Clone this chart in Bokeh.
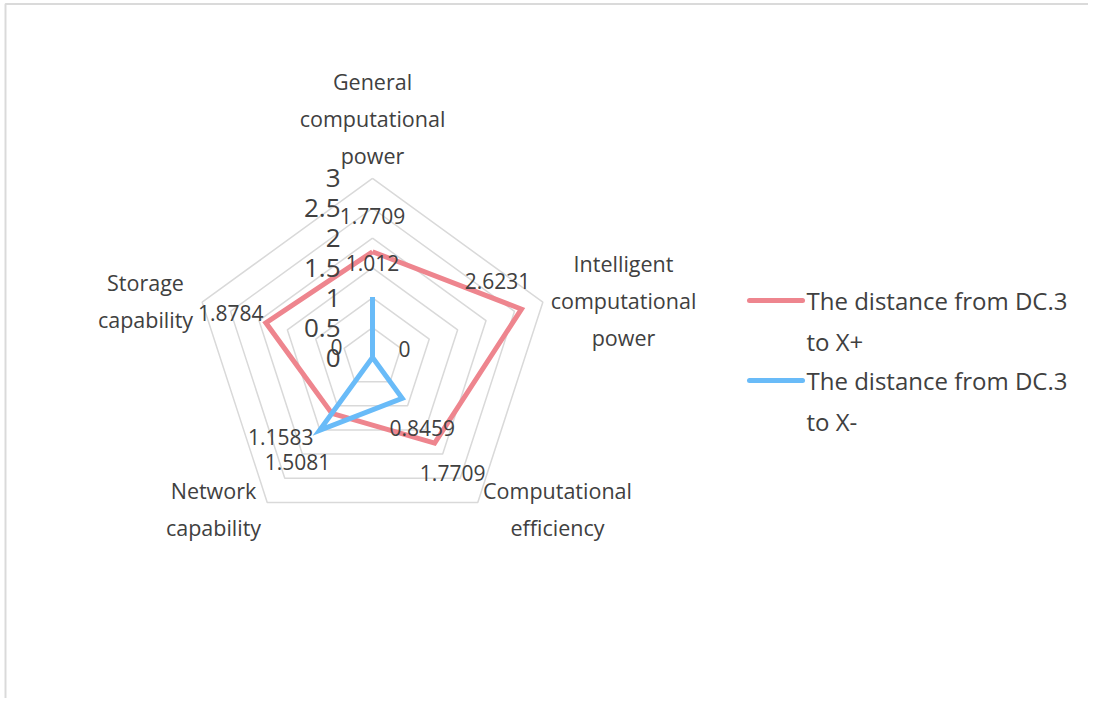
import numpy as np
from bokeh.plotting import figure
from bokeh.models import ColumnDataSource
from bokeh.core.properties import value
from bokeh.embed import file_html
from bokeh.resources import INLINE

# ---- data ----
categories = ["General\ncomputational\npower",
              "Intelligent\ncomputational\npower",
              "Computational\nefficiency",
              "Network\ncapability",
              "Storage\ncapability"]
series_names = ["The distance from DC.3\nto X+", "The distance from DC.3\nto X-"]
x_plus = [1.7709, 2.6231, 1.7709, 1.1583, 1.8784]
x_minus = [1.012, 0, 0.8459, 1.5081, 0]
ticks = [0, 0.5, 1, 1.5, 2, 2.5, 3]
tick_labels = ["0", "0.5", "1", "1.5", "2", "2.5", "3"]

# ---- layout (pixel mapping) ----
W, H = 1088, 698
S = 59.7                       # px per unit
CX, CY = 372, 357              # center in figure px
x0 = -CX / S
x1 = x0 + W / S
y1 = CY / S
y0 = y1 - H / S

def px(x, y):
    """figure pixel -> data coords"""
    return x0 + x / S, y1 - y / S

FONT = value("Open Sans")
TXT = "#404040"
RED = "#EE858E"
BLUE = "#69BBF8"
GRID = "#D9D9D9"

p = figure(width=W, height=H, x_range=(x0, x1), y_range=(y0, y1),
           output_backend="svg", toolbar_location=None, min_border=0)
p.axis.visible = False
p.grid.visible = False
p.outline_line_color = None
p.background_fill_color = "white"

# frame lines
fa = px(5, 3.5)
fb = px(5, 720)
fc = px(1100, 3.5)
p.line([fb[0], fa[0], fc[0]], [fb[1], fa[1], fc[1]], line_color="#DADADA", line_width=2)

n = len(categories)
ang = np.pi / 2 - np.arange(n) * 2 * np.pi / n
ca, sa = np.cos(ang), np.sin(ang)

# rings
for t in ticks[1:]:
    xs = list(t * ca) + [t * ca[0]]
    ys = list(t * sa) + [t * sa[0]]
    p.line(xs, ys, line_color=GRID, line_width=1.5)

# series
for vals, col in [(x_plus, RED), (x_minus, BLUE)]:
    v = np.array(vals)
    xs = list(v * ca) + [v[0] * ca[0]]
    ys = list(v * sa) + [v[0] * sa[0]]
    p.line(xs, ys, line_color=col, line_width=5, line_join="miter")

# tick labels
p.text(x=[0] * len(ticks), y=ticks, text=tick_labels, x_offset=-32,
       text_align="right", text_baseline="middle", text_font=FONT,
       text_font_size="26px", text_color=TXT)

# data labels
red_off = [(0, -36), (-24, -28), (18, 30), (-51, 24), (-35, -10)]
blue_off = [(0, -34), (32, -9), (20, 30), (-22, 32), (-36, -11)]
for vals, offs in [(x_plus, red_off), (x_minus, blue_off)]:
    v = np.array(vals)
    src = ColumnDataSource(dict(x=v * ca, y=v * sa,
                                t=[f"{a:g}" for a in vals],
                                dx=[o[0] for o in offs], dy=[o[1] for o in offs]))
    p.text(x="x", y="y", text="t", x_offset="dx", y_offset="dy", source=src,
           text_align="center", text_baseline="middle", text_font=FONT,
           text_font_size="21px", text_color=TXT)

# category labels (positions in figure px, centre of first line)
cat_pos = [(372, 81), (623, 263), (557, 490), (213, 490), (145, 282)]
for lab, (lx, ly) in zip(categories, cat_pos):
    lines = lab.split("\n")
    xs, ys = [], []
    for i, _ in enumerate(lines):
        dx, dy = px(lx, ly + 37 * i)
        xs.append(dx)
        ys.append(dy)
    p.text(x=xs, y=ys, text=lines, text_align="center", text_baseline="middle",
           text_font=FONT, text_font_size="21.5px", text_color=TXT)

# legend
leg_y = [300, 380]
for name, col, ly in zip(series_names, [RED, BLUE], leg_y):
    ax, ay = px(749, ly)
    bx, _ = px(802, ly)
    p.line([ax, bx], [ay, ay], line_color=col, line_width=5, line_cap="round")
    tx, _ = px(806, ly)
    lines = name.split("\n")
    ys = [px(806, ly + 41 * i)[1] for i in range(len(lines))]
    p.text(x=[tx] * len(lines), y=ys, text=lines, text_align="left", text_baseline="middle",
           text_font=FONT, text_font_size="24px", text_color=TXT)

open("out.html", "w").write(file_html(p, INLINE))
